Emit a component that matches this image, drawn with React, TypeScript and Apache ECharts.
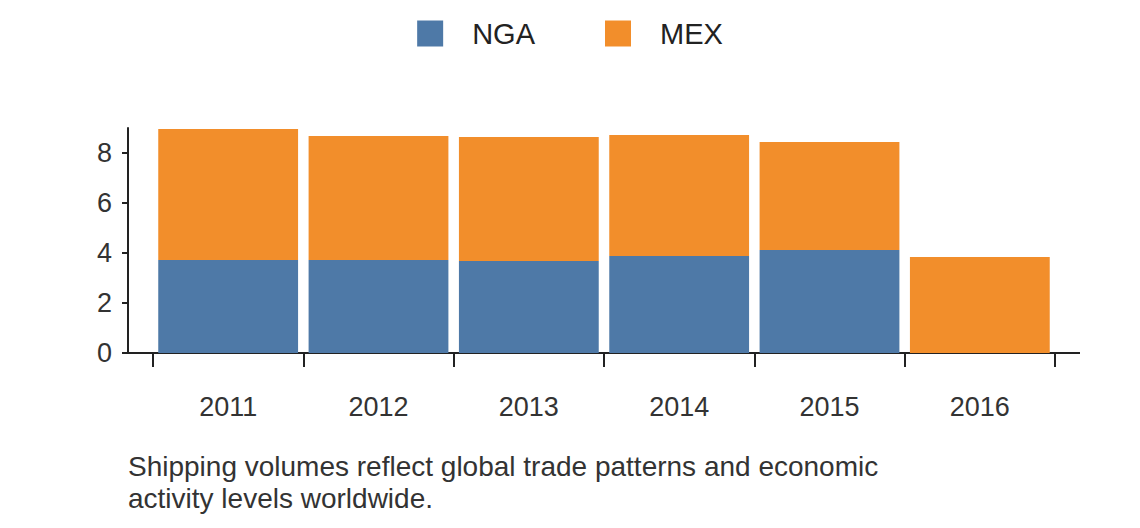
import React, { useEffect, useRef } from "react";
import * as echarts from "echarts";

const years = ["2011", "2012", "2013", "2014", "2015", "2016"];
const nga = [3.72, 3.72, 3.68, 3.88, 4.12, 0];
const mex = [5.24, 4.96, 4.96, 4.84, 4.32, 3.84];
const caption = "Shipping volumes reflect global trade patterns and economic\nactivity levels worldwide.";

export default function App() {
  const ref = useRef<HTMLDivElement>(null);
  useEffect(() => {
    const chart = echarts.init(ref.current!, undefined, { renderer: "svg" });
    const font = "Liberation Sans, Arial, sans-serif";
    chart.setOption({
      animation: false,
      textStyle: { fontFamily: font },
      legend: {
        top: 14, left: "center", itemWidth: 26, itemHeight: 26, itemGap: 70,
        icon: "rect",
        textStyle: { fontSize: 29, color: "#222", fontFamily: font, padding: [0, 0, 0, 24] },
        data: ["NGA", "MEX"],
      },
      grid: { left: 153, right: 85, top: 128, bottom: 175 },
      xAxis: {
        type: "category", data: years,
        axisLine: { lineStyle: { color: "#222", width: 2 } },
        axisTick: { show: true, length: 14, lineStyle: { color: "#222", width: 2 } },
        axisLabel: { fontSize: 27, color: "#333", margin: 40, fontFamily: font },
      },
      yAxis: {
        type: "value", min: 0, max: 9, interval: 2, offset: 25,
        splitLine: { show: false },
        axisLine: { show: true, lineStyle: { color: "#222", width: 2 } },
        axisTick: { show: true, length: 6, lineStyle: { color: "#222", width: 2 } },
        axisLabel: { fontSize: 27, color: "#333", margin: 16, fontFamily: font,
          showMaxLabel: false },
      },
      series: [
        { name: "NGA", type: "bar", stack: "a", data: nga, barCategoryGap: "7%", itemStyle: { color: "#4e79a7" } },
        { name: "MEX", type: "bar", stack: "a", data: mex, barCategoryGap: "7%", itemStyle: { color: "#f28e2b" } },
      ],
      graphic: [
        { type: "line", shape: { x1: 128, y1: 353, x2: 1080, y2: 353 }, style: { stroke: "#222", lineWidth: 2 } },
        { type: "text", left: 128, top: 450, style: { text: caption, fontSize: 28, lineHeight: 32, fill: "#333", fontFamily: font } },
      ],
    });
    return () => chart.dispose();
  }, []);
  return <div ref={ref} style={{ position: "absolute", left: 0, top: 0, width: 1140, height: 528 }} />;
}
